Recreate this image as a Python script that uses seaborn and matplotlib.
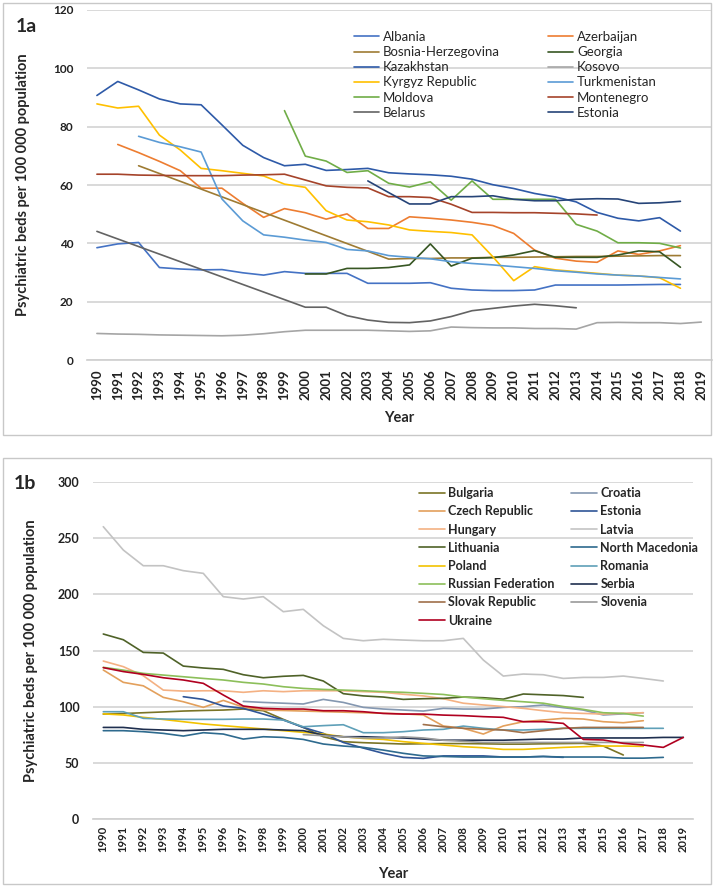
import numpy as np
import pandas as pd
import matplotlib
matplotlib.use("Agg")
import matplotlib.pyplot as plt
from matplotlib.lines import Line2D
from matplotlib.patches import Rectangle
import seaborn as sns

years = list(range(1990, 2020))
N = np.nan

# ---------------- Panel 1a data (beds per 100 000) ----------------
albania = [38.5, 39.8, 40.3, 31.7, 31.2, 30.9, 31.0, 29.9, 29.1, 30.3, 29.7, 29.7, 29.7, 26.3, 26.3,
           26.3, 26.5, 24.6, 24.0, 23.8, 23.8, 24.0, 25.7, 25.7, 25.7, 25.7, 25.8, 25.9, 25.9, N]
azerbaijan = [N, 73.9, 71.1, 68.1, 64.9, 58.9, 58.9, 53.7, 48.9, 51.9, 50.5, 48.3, 50.1, 45.1, 45.1,
              49.1, 48.6, 48.0, 47.2, 46.1, 43.4, 37.7, 34.9, 33.9, 33.5, 37.4, 36.2, 37.4, 39.2, N]
bosnia = [N, N, 66.6, N, N, N, N, N, N, N, N, N, N, N, 34.6,
          34.8, 34.8, 35.0, 35.0, 35.2, 35.2, 35.3, 35.4, 35.5, 35.5, 35.6, 35.7, 35.8, 35.8, N]
georgia = [N, N, N, N, N, N, N, N, N, N, 29.5, 29.5, 31.4, 31.4, 31.7,
           32.6, 39.8, 32.2, 34.9, 35.1, 36.0, 37.5, 35.2, 35.2, 35.2, 36.0, 37.4, 37.1, 31.8, N]
kazakhstan = [90.7, 95.5, 92.6, 89.5, 87.8, 87.5, 80.6, 73.6, 69.4, 66.6, 67.1, 65.0, 65.3, 65.7, 64.2,
              63.8, 63.5, 63.0, 62.0, 60.1, 58.8, 57.1, 55.9, 54.2, 50.6, 48.6, 47.7, 48.8, 44.2, N]
kosovo = [9.1, 8.9, 8.8, 8.6, 8.5, 8.4, 8.3, 8.5, 9.0, 9.7, 10.2, 10.2, 10.2, 10.2, 10.0,
          9.8, 10.0, 11.3, 11.1, 11.0, 11.0, 10.8, 10.8, 10.6, 12.8, 12.9, 12.8, 12.8, 12.5, 13.0]
kyrgyz = [87.8, 86.4, 87.0, 77.1, 72.0, 65.7, 64.9, 64.0, 63.1, 60.3, 59.2, 51.2, 48.0, 47.4, 46.3,
          44.6, 44.1, 43.7, 42.9, 35.4, 27.2, 32.0, 30.9, 30.3, 29.7, 29.1, 28.8, 28.2, 24.6, N]
turkmenistan = [N, N, 76.7, 74.6, 73.1, 71.3, 55.2, 47.7, 42.9, 42.1, 41.1, 40.3, 37.9, 37.4, 35.8,
                35.2, 34.7, 33.7, 33.1, 32.6, 32.0, 31.4, 30.6, 30.1, 29.5, 29.1, 28.8, 28.3, 27.8, N]
moldova = [N, N, N, N, N, N, N, N, N, 85.5, 69.9, 68.2, 64.3, 64.9, 60.6,
           59.3, 61.1, 54.8, 61.4, 55.1, 55.1, 55.1, 55.1, 46.5, 44.2, 40.2, 40.2, 40.0, 38.4, N]
montenegro = [63.7, 63.7, 63.4, 63.3, 63.2, 63.2, 63.2, 63.4, 63.5, 63.7, 61.7, 59.7, 59.2, 59.0, 56.0,
              56.0, 55.7, 53.4, 50.6, 50.6, 50.5, 50.5, 50.3, 50.1, 49.7, N, N, N, N, N]
belarus = [44.1, N, N, N, N, N, N, N, N, N, 18.1, 18.1, 15.2, 13.7, 12.9,
           12.8, 13.4, 14.9, 16.9, 17.7, 18.5, 19.1, 18.6, 17.9, N, N, N, N, N, N]
estonia_a = [N, N, N, N, N, N, N, N, N, N, N, N, N, 61.4, 57.4,
             53.5, 53.5, 56.0, 56.0, 56.3, 55.1, 54.6, 54.6, 55.1, 55.3, 55.2, 53.7, 53.9, 54.4, N]

names_a = ["Albania", "Azerbaijan", "Bosnia-Herzegovina", "Georgia", "Kazakhstan", "Kosovo",
           "Kyrgyz Republic", "Turkmenistan", "Moldova", "Montenegro", "Belarus", "Estonia"]
values_a = [albania, azerbaijan, bosnia, georgia, kazakhstan, kosovo,
            kyrgyz, turkmenistan, moldova, montenegro, belarus, estonia_a]
colors_a = ["#4472C4", "#ED7D31", "#9E7B33", "#375623", "#2E5AA8", "#A5A5A5",
            "#FFC000", "#5B9BD5", "#70AD47", "#A5432A", "#636363", "#264478"]

# ---------------- Panel 1b data ----------------
bulgaria = [93.3, 93.8, 94.5, 95.2, 96.0, 96.5, 96.9, 97.8, 96.3, 88.6, 81.4, 73.1, 68.7, 67.8, 67.2,
            66.6, 66.8, 67.0, 67.0, 66.8, 66.5, 66.5, 66.8, 67.0, 67.2, 64.8, 56.8, N, N, N]
croatia = [N, N, N, N, N, N, N, 104.6, 103.7, 103.0, 102.3, 106.4, 103.7, 99.3, 97.8,
           96.9, 96.0, 98.4, 97.8, 97.8, 99.3, 99.9, 101.4, 99.0, 96.9, 92.5, 93.5, 94.5, N, N]
czech = [132.6, 121.6, 118.5, 108.2, 104.3, 99.3, 105.5, 99.5, 97.0, 96.5, 96.0, 95.5, 95.0, 94.5, 94.0,
         93.5, 92.5, 82.7, 80.6, 75.5, 82.7, 86.5, 88.0, 89.5, 88.9, 86.5, 85.6, 87.4, N, N]
estonia_b = [N, N, N, N, 108.8, 106.4, 100.5, 98.4, 93.3, 88.0, 81.4, 76.1, 68.0, 63.0, 58.3,
             54.7, 53.8, 56.0, 56.0, 56.0, 55.0, 55.0, 55.5, 54.7, N, N, N, N, N, N]
hungary = [140.6, 135.6, 127.5, 114.7, 113.8, 114.1, 114.1, 112.7, 114.1, 113.3, 114.1, 114.1, 114.1, 113.3, 112.7,
           111.0, 109.5, 107.0, 103.0, 101.4, 100.0, 98.4, 96.3, 94.5, 93.9, 93.3, 94.0, 94.5, N, N]
latvia = [260.4, 239.6, 225.6, 225.6, 221.2, 218.8, 198.0, 195.9, 198.0, 184.6, 186.7, 172.1, 160.8, 158.7, 160.0,
          159.3, 158.7, 158.7, 160.8, 141.5, 127.2, 129.0, 128.4, 125.1, 126.0, 126.0, 127.2, 125.1, 122.8, N]
lithuania = [164.7, 159.6, 148.3, 147.7, 136.1, 134.4, 133.2, 128.4, 125.7, 127.0, 127.8, 122.8, 111.5, 109.5, 108.5,
             106.4, 107.0, 107.3, 108.5, 107.9, 106.6, 111.2, 110.5, 109.8, 108.2, N, N, N, N, N]
n_macedonia = [78.5, 78.5, 77.6, 76.1, 73.7, 76.7, 75.5, 71.0, 73.1, 72.5, 70.7, 66.6, 64.8, 63.6, 61.2,
               58.3, 56.0, 55.5, 55.0, 55.0, 55.0, 55.0, 55.5, 55.0, 55.0, 55.0, 54.0, 54.0, 54.7, N]
poland = [93.5, 92.5, 90.4, 88.5, 86.5, 84.5, 83.0, 81.5, 80.0, 78.5, 77.0, 75.5, 73.1, 71.6, 70.7,
          68.7, 67.2, 65.7, 64.2, 63.3, 61.8, 61.8, 62.7, 63.6, 64.2, 64.8, 64.8, 64.5, N, N]
romania = [95.4, 95.4, 89.5, 88.9, 88.6, 88.6, 88.6, 88.9, 88.9, 88.0, 82.0, 83.0, 83.8, 76.7, 76.7,
           77.6, 79.1, 79.7, 82.6, 80.6, 79.1, 79.1, 79.7, 80.6, 80.6, 80.6, 80.6, 80.6, 80.6, N]
russia = [135.0, 132.5, 129.6, 128.1, 126.6, 125.1, 123.7, 121.6, 120.1, 117.7, 116.2, 115.3, 114.7, 114.1, 113.3,
          112.7, 111.8, 110.8, 108.5, 107.0, 105.5, 104.3, 103.0, 100.0, 97.5, 94.5, 93.9, 91.5, N, N]
serbia = [81.4, 81.4, 79.7, 79.1, 78.5, 79.1, 79.7, 79.7, 79.7, 79.1, 78.5, 74.6, 73.1, 73.1, 72.5,
          72.0, 71.0, 70.0, 70.0, 70.0, 70.0, 70.5, 71.0, 71.0, 72.0, 72.0, 72.0, 72.0, 72.5, 72.5]
slovak = [N, N, N, N, N, N, N, N, N, N, N, N, N, N, N,
          N, 84.0, 82.0, 80.6, 79.7, 79.1, 76.7, 78.5, 80.6, 81.4, 81.4, 81.4, 81.4, N, N]
slovenia = [N, N, N, N, N, N, N, N, N, N, 75.0, 74.0, 73.0, 72.0, 72.0,
            73.0, 72.0, 70.0, 69.0, 68.0, 68.0, 68.0, 68.0, 68.0, 68.0, 68.0, 68.0, 68.0, N, N]
ukraine = [134.7, 131.2, 128.7, 125.7, 123.7, 120.7, 110.3, 100.5, 98.4, 97.8, 97.8, 96.3, 96.3, 95.4, 93.9,
           93.3, 93.3, 92.4, 91.9, 91.0, 90.4, 86.5, 86.5, 85.0, 70.7, 70.2, 67.2, 65.7, 63.6, 72.5]

names_b = ["Bulgaria", "Croatia", "Czech Republic", "Estonia", "Hungary", "Latvia", "Lithuania",
           "North Macedonia", "Poland", "Romania", "Russian Federation", "Serbia", "Slovak Republic",
           "Slovenia", "Ukraine"]
values_b = [bulgaria, croatia, czech, estonia_b, hungary, latvia, lithuania, n_macedonia, poland,
            romania, russia, serbia, slovak, slovenia, ukraine]
colors_b = ["#7A7426", "#8497B0", "#E3A05C", "#2F5597", "#F4B183", "#C3C3C3", "#4F6228",
            "#2E6A8E", "#F2C200", "#5FA0B8", "#8CBF5A", "#1F2F4F", "#A0704A", "#9A9A9A", "#B00020"]


def long_frame(names, values):
    rows = []
    for n, vals in zip(names, values):
        for y, v in zip(years, vals):
            if not np.isnan(v):
                rows.append((n, y, v))
    return pd.DataFrame(rows, columns=["country", "year", "beds"])


df_a = long_frame(names_a, values_a)
df_b = long_frame(names_b, values_b)

sns.set_theme(style="white")
plt.rcParams['font.family'] = ['Lato', 'DejaVu Sans']

W, H = 714, 888
fig = plt.figure(figsize=(W / 100, H / 100), dpi=100)


def px_axes(l, t, r, b):
    return fig.add_axes([l / W, 1 - b / H, (r - l) / W, (b - t) / H])


# frames around each panel
for (l, t, r, b) in [(3, 3, 711, 435), (3, 458, 711, 884)]:
    fig.patches.append(Rectangle((l / W, 1 - b / H), (r - l) / W, (b - t) / H,
                                 transform=fig.transFigure, fill=False,
                                 edgecolor="#C8C8C8", lw=1.0))

ax1 = px_axes(86.5, 10, 711.7, 360)
ax2 = px_axes(93.3, 482.3, 693.3, 818.7)

sns.lineplot(data=df_a, x="year", y="beds", hue="country", hue_order=names_a,
             palette=dict(zip(names_a, colors_a)), estimator=None, errorbar=None,
             lw=1.2, legend=False, ax=ax1)
sns.lineplot(data=df_b, x="year", y="beds", hue="country", hue_order=names_b,
             palette=dict(zip(names_b, colors_b)), estimator=None, errorbar=None,
             lw=1.2, legend=False, ax=ax2)


def style(ax, ymax, ystep, yfs, xfs, xpad, ypad):
    ax.set_xlim(1989.5, 2019.5)
    ax.set_ylim(0, ymax)
    ax.set_yticks(np.arange(0, ymax + 1, ystep))
    ax.set_yticklabels([str(int(v)) for v in np.arange(0, ymax + 1, ystep)],
                       fontsize=yfs, fontweight="bold")
    ax.set_xticks(years)
    ax.set_xticklabels([str(y) for y in years], rotation=90, fontsize=xfs, fontweight="bold")
    ax.tick_params(axis="x", length=0, pad=xpad, colors="#222222")
    ax.tick_params(axis="y", length=0, pad=ypad, colors="#222222")
    ax.grid(axis="y", color="#D0D0D0", lw=1.1)
    ax.grid(axis="x", visible=False)
    for s in ["top", "right", "left"]:
        ax.spines[s].set_visible(False)
    ax.spines["bottom"].set_color("#D0D0D0")
    ax.set_axisbelow(True)
    ax.set_facecolor("none")


style(ax1, 120, 20, 8.5, 9.5, 6.5, 9.5)
style(ax2, 300, 50, 9, 8, 5, 10)

ylab = "Psychiatric beds per 100 000 population"
ax1.set_ylabel(ylab, fontsize=10.5, fontweight="bold")
ax1.yaxis.set_label_coords((30 - 86.5) / 624.2, 0.5)
ax1.set_xlabel("Year", fontsize=10.5, fontweight="bold")
ax1.xaxis.set_label_coords(0.5, (360 - 411) / 350)
ax2.set_ylabel(ylab, fontsize=10.5, fontweight="bold")
ax2.yaxis.set_label_coords((38 - 93.3) / 600, 0.5)
ax2.set_xlabel("Year", fontsize=10.5, fontweight="bold")
ax2.xaxis.set_label_coords(0.5, (818.7 - 867) / 336.4)

fig.text(16 / W, 1 - 27 / H, "1a", fontsize=14, fontweight="bold", va="center", ha="left")
fig.text(14 / W, 1 - 483 / H, "1b", fontsize=14, fontweight="bold", va="center", ha="left")


def add_legend(names, colors, x, y_top, fs, weight, spacing, hl, htp):
    handles = [Line2D([], [], color=c, lw=1.2) for c in colors]
    fig.legend(handles, names, loc="upper left", bbox_to_anchor=(x / W, 1 - y_top / H),
               frameon=False, prop={"size": fs, "weight": weight}, labelspacing=spacing,
               handlelength=hl, handletextpad=htp, borderpad=0, borderaxespad=0)


ca = dict(zip(names_a, colors_a))
col1_a = ["Albania", "Bosnia-Herzegovina", "Kazakhstan", "Kyrgyz Republic", "Moldova", "Belarus"]
col2_a = ["Azerbaijan", "Georgia", "Kosovo", "Turkmenistan", "Montenegro", "Estonia"]
add_legend(col1_a, [ca[n] for n in col1_a], 354, 31, 9.5, "normal", 0.24, 1.9, 0.3)
add_legend(col2_a, [ca[n] for n in col2_a], 548, 31, 9.5, "normal", 0.24, 1.9, 0.3)

cb = dict(zip(names_b, colors_b))
col1_b = ["Bulgaria", "Czech Republic", "Hungary", "Lithuania", "Poland", "Russian Federation",
          "Slovak Republic", "Ukraine"]
col2_b = ["Croatia", "Estonia", "Latvia", "North Macedonia", "Romania", "Serbia", "Slovenia"]
add_legend(col1_b, [cb[n] for n in col1_b], 419, 487, 9, "bold", 0.5, 2.1, 0.25)
add_legend(col2_b, [cb[n] for n in col2_b], 571, 487, 9, "bold", 0.5, 2.1, 0.25)

fig.savefig("out.png", dpi=100)
